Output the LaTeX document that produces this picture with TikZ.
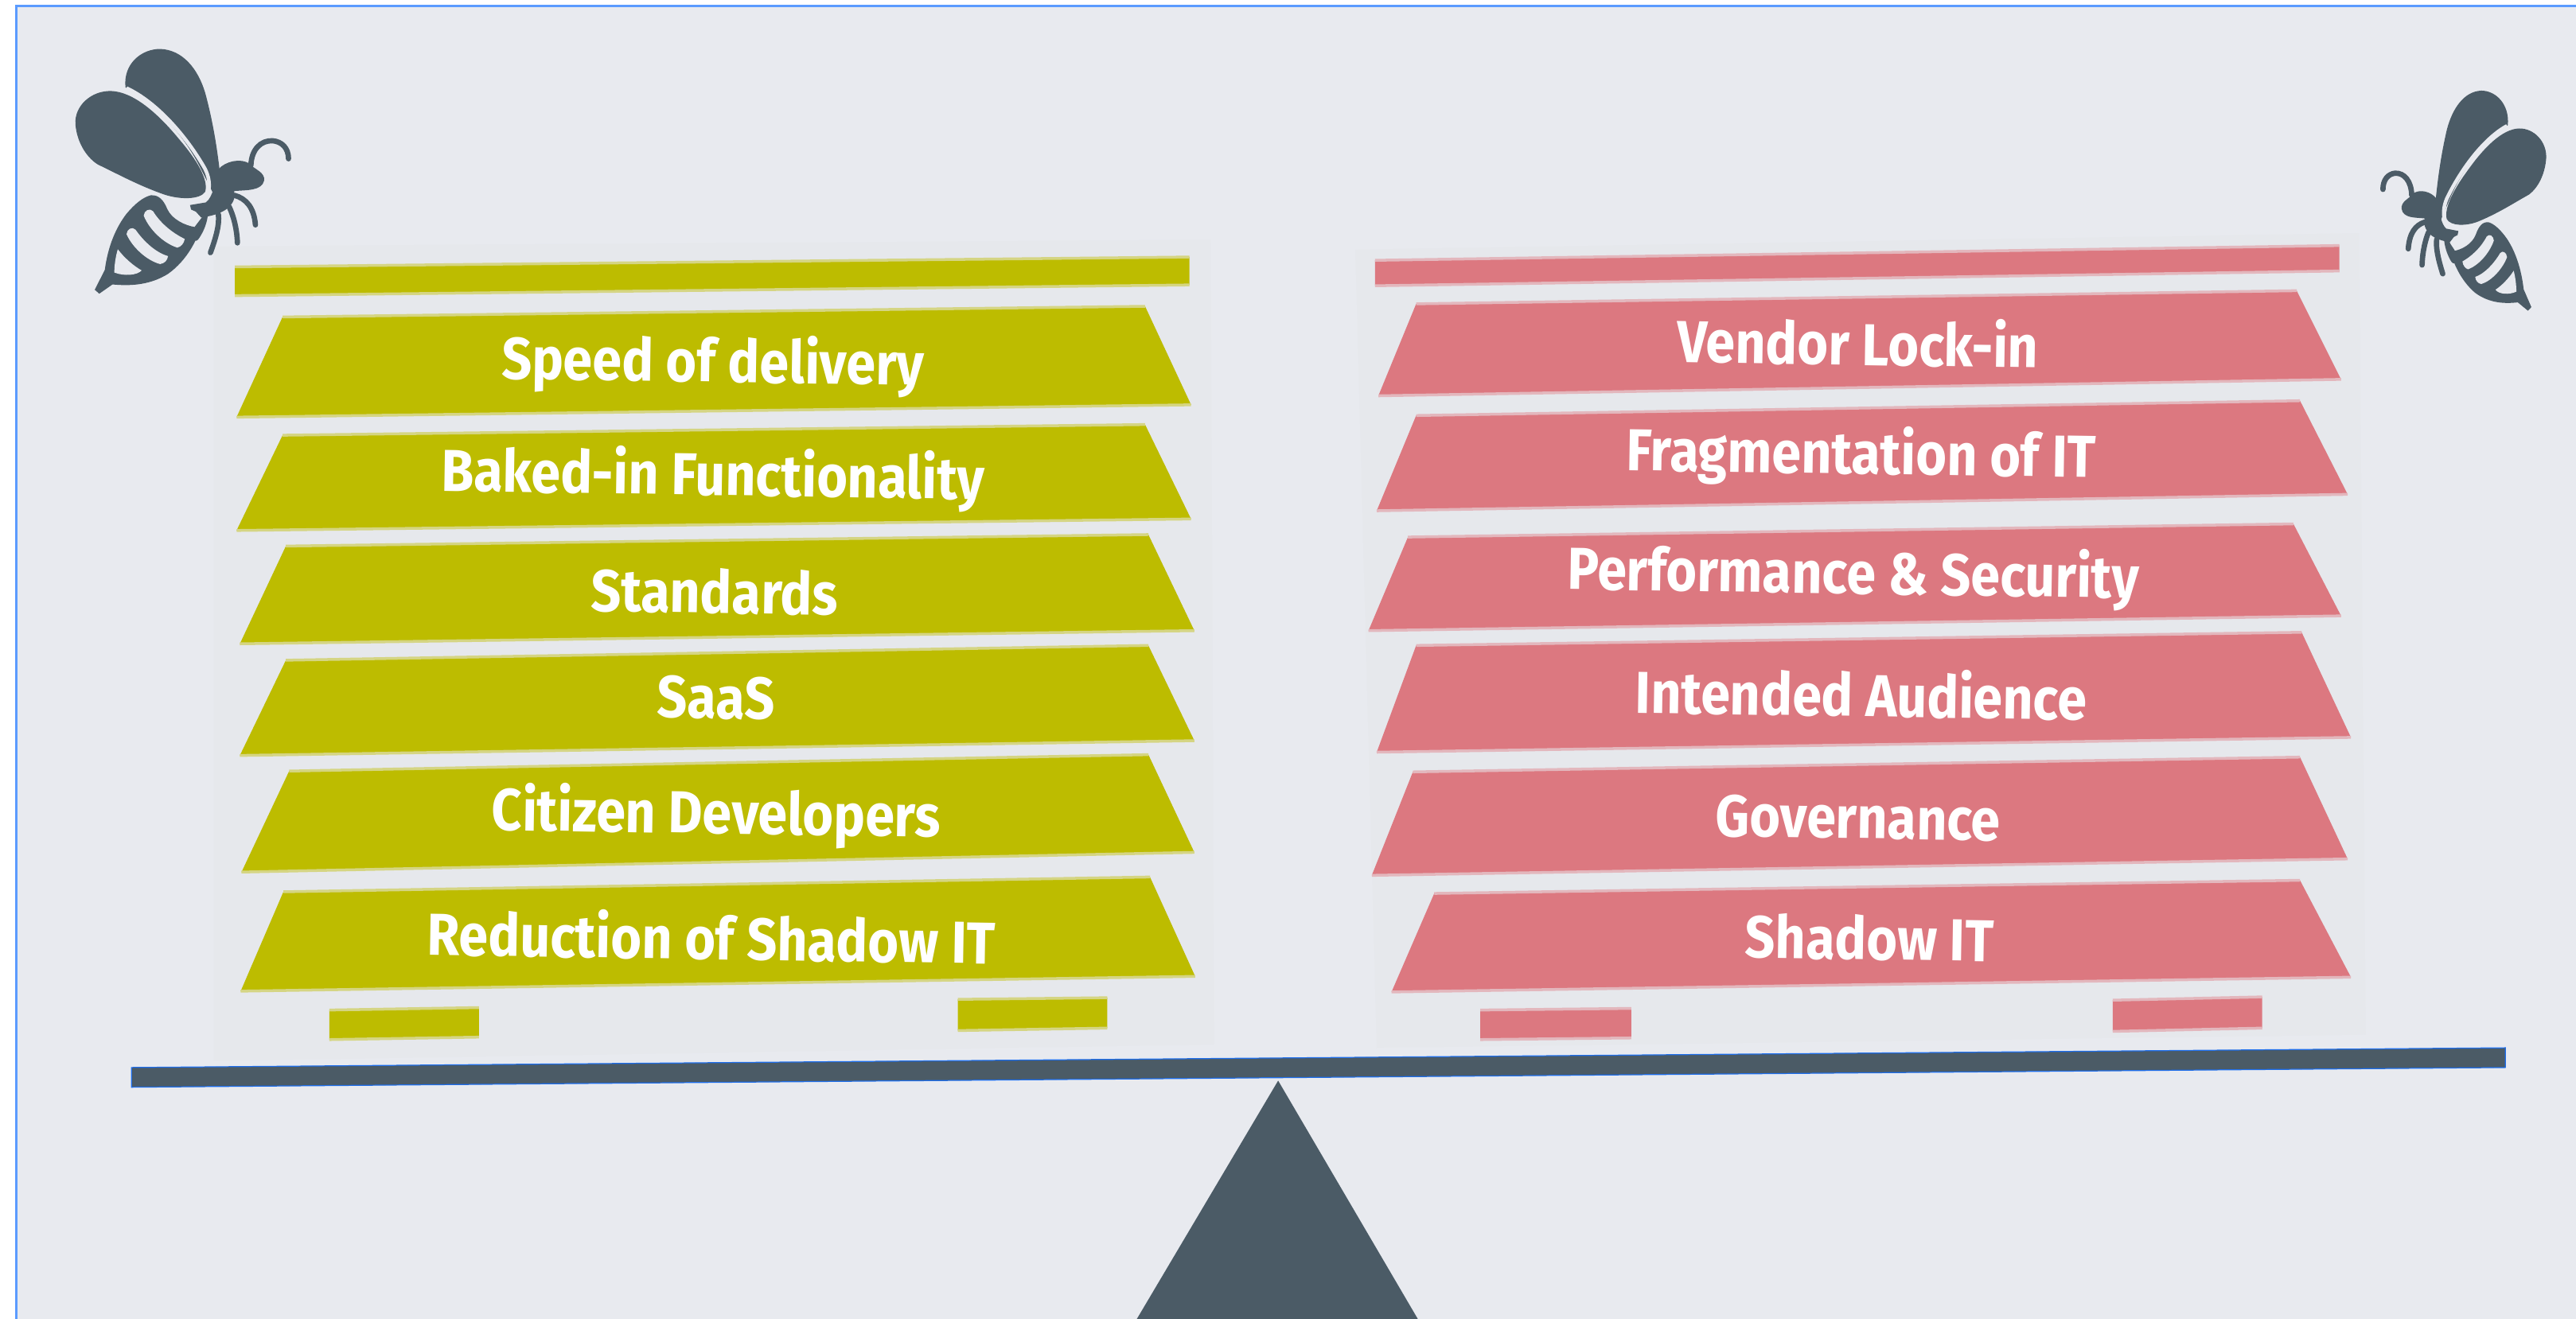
\documentclass[tikz,border=0pt]{standalone}
\usepackage{fontspec}
\setmainfont{Fira Sans}
\definecolor{bgc}{HTML}{E8EAEF}
\definecolor{panelc}{HTML}{E6E8EC}
\definecolor{olive}{HTML}{BDBC00}
\definecolor{rose}{HTML}{DC7880}
\definecolor{slate}{HTML}{4B5B66}
\definecolor{frameblue}{HTML}{5B9BFF}
\definecolor{beamblue}{HTML}{1E6EEB}
\tikzset{
  lbl/.style={text=white,font=\fontsize{18.9}{24}\selectfont\bfseries,rotate=-0.9,inner sep=0pt,anchor=center,yscale=1.12},
  beeline/.style={draw=slate,line width=1.9pt,line cap=round},
  gap/.style={fill=bgc,draw=none}
}
% plank: fill and light bands along the top and bottom edges
\newcommand{\plank}[5]{%
  \fill[#1] #2 -- #3 -- #4 -- #5 -- cycle;
  \draw[#1!45!bgc,line width=1pt] #2 -- #3;
  \draw[#1!45!bgc,line width=1pt] #5 -- #4;
}
\newcommand{\beeshape}{%
  % upper wing
  \fill[slate] (474,330) .. controls (465,240) and (535,185) .. (605,185)
     .. controls (690,188) and (748,260) .. (775,350)
     .. controls (805,460) and (820,560) .. (830,645) -- (805,730) -- (760,640)
     .. controls (700,520) and (600,400) .. (474,330) -- cycle;
  % lower wing
  \fill[slate] (285,470) .. controls (280,400) and (345,342) .. (420,344)
     .. controls (500,347) and (590,420) .. (680,530)
     .. controls (740,600) and (790,680) .. (775,725)
     .. controls (755,755) and (680,755) .. (620,735)
     .. controls (520,700) and (440,655) .. (370,622)
     .. controls (320,590) and (290,530) .. (285,470) -- cycle;
  % light rim between the wings
  \draw[bgc,line width=1.3pt] (478,333) .. controls (590,385) and (700,510) .. (770,630)
     .. controls (800,680) and (795,740) .. (765,755) -- (715,772);
  % head and thorax
  \fill[slate] (825,640) .. controls (850,610) and (910,595) .. (945,620)
     .. controls (960,640) and (1002,650) .. (998,682)
     .. controls (990,722) and (930,718) .. (885,722)
     -- (885,750) .. controls (870,800) and (810,815) .. (760,822)
     -- (740,800) -- (722,792) -- (718,775) -- (778,765)
     .. controls (805,745) and (812,690) .. (825,640) -- cycle;
  % antenna
  \draw[beeline] (948,625) .. controls (950,565) and (985,530) .. (1030,532)
     .. controls (1065,535) and (1090,560) .. (1090,600);
  % legs
  \draw[beeline] (885,738) .. controls (930,750) and (960,785) .. (965,850);
  \draw[beeline] (865,780) .. controls (880,810) and (895,860) .. (897,918);
  \draw[beeline] (825,810) .. controls (830,850) and (815,900) .. (795,955);
  \draw[beeline] (775,815) .. controls (770,850) and (755,880) .. (740,900);
  % abdomen
  \fill[slate] (570,738) .. controls (600,736) and (618,756) .. (632,790)
     .. controls (650,830) and (700,852) .. (735,858) -- (768,815)
     .. controls (755,900) and (705,985) .. (635,1035)
     .. controls (560,1082) and (480,1080) .. (425,1075)
     -- (375,1110) -- (358,1095) -- (396,1020)
     .. controls (408,930) and (438,860) .. (478,808)
     .. controls (508,772) and (540,745) .. (570,738) -- cycle;
  % light stripes of the abdomen
  \fill[gap] (543,815) .. controls (545,795) and (565,785) .. (578,798)
     .. controls (610,850) and (660,885) .. (698,903)
     .. controls (695,920) and (685,932) .. (670,936)
     .. controls (620,920) and (565,870) .. (543,815) -- cycle;
  \fill[gap] (478,885) .. controls (480,865) and (500,855) .. (512,868)
     .. controls (545,915) and (590,955) .. (635,968)
     .. controls (632,985) and (622,995) .. (605,998)
     .. controls (555,985) and (500,935) .. (478,885) -- cycle;
  \fill[gap] (445,942) .. controls (470,975) and (505,1005) .. (535,1022)
     .. controls (520,1040) and (470,1045) .. (432,1030)
     .. controls (432,1000) and (437,970) .. (445,942) -- cycle;
}
\begin{document}
\begin{tikzpicture}[x=0.020644cm,y=-0.020644cm]
\useasboundingbox (0,0) rectangle (1568,803.1);
\fill[white] (0,0) rectangle (1568,803.1);
\fill[bgc] (10,3.7) rectangle (1568,803.1);
\draw[frameblue,line width=0.7pt] (10,803.1) -- (10,3.7) -- (1568,3.7);
% faint panels behind the stacks
\fill[panelc] (130,150) -- (737,146) -- (739,636) -- (130,646) -- cycle;
\fill[panelc] (825,152) -- (1436,142) -- (1440,630) -- (838,638) -- cycle;
% left stack
\plank{olive}{(143,162.5)}{(724,156.5)}{(724,173.5)}{(143,180)}
\plank{olive}{(172,193)}{(697,186.5)}{(725,246.5)}{(144,254)}
\plank{olive}{(172,265)}{(697,258.5)}{(725,316)}{(144,323)}
\plank{olive}{(174,332.5)}{(699,325.5)}{(727,384)}{(146,392)}
\plank{olive}{(174,402)}{(699,393)}{(727,451)}{(146,460)}
\plank{olive}{(176,469.5)}{(699,459.5)}{(727,519)}{(147,531)}
\plank{olive}{(172.5,543)}{(700,534)}{(727.5,594.5)}{(146.5,603.5)}
\plank{olive}{(200.5,615)}{(291.5,613.5)}{(291.5,631.5)}{(200.5,633)}
\plank{olive}{(583,608.5)}{(674,607.5)}{(674,626)}{(583,627.5)}
% right stack
\plank{rose}{(837,158.5)}{(1424,149.5)}{(1424,165)}{(837,174)}
\plank{rose}{(862,185)}{(1398,177)}{(1425,231)}{(839,241)}
\plank{rose}{(862,253)}{(1400,244)}{(1429,301)}{(838,311)}
\plank{rose}{(857,327)}{(1396,319)}{(1425,375)}{(833,384)}
\plank{rose}{(862,393)}{(1401,385)}{(1431,449)}{(838,458)}
\plank{rose}{(860,470)}{(1400,461)}{(1429,523)}{(835,533)}
\plank{rose}{(873,544)}{(1400,536)}{(1431,595)}{(847,604)}
\plank{rose}{(901,615)}{(993,614)}{(993,632)}{(901,633)}
\plank{rose}{(1286,609)}{(1377,607)}{(1377,626)}{(1286,628)}
% labels
\node[lbl] (l1) at (434,222) {Speed of delivery};
\node[lbl] (l2) at (434,291) {Baked-in Functionality};
\node[lbl] (l3) at (435,360) {Standards};
\node[lbl] (l4) at (436,425) {SaaS};
\node[lbl] (l5) at (436,497) {Citizen Developers};
\node[lbl] (l6) at (433,570) {Reduction of Shadow IT};
\node[lbl] (r1) at (1131,208) {Vendor Lock-in};
\node[lbl] (r2) at (1133,278) {Fragmentation of IT};
\node[lbl] (r3) at (1128,351) {Performance \& Security};
\node[lbl] (r4) at (1133,422) {Intended Audience};
\node[lbl] (r5) at (1131,498) {Governance};
\node[lbl] (r6) at (1138,571) {Shadow IT};
% beam and pivot
\fill[slate] (778,658) -- (863,803.1) -- (692,803.1) -- cycle;
\draw[beamblue,line width=0.35pt,fill=slate] (80,650) -- (1525,638) -- (1525,650) -- (80,662) -- cycle;
% bees
\begin{scope}[x=0.003333cm,y=-0.003333cm]
  \beeshape
\end{scope}
\begin{scope}[shift={(1585,28.4)},x=-0.002555cm,y=-0.002987cm]
  \beeshape
\end{scope}
\end{tikzpicture}
\end{document}
